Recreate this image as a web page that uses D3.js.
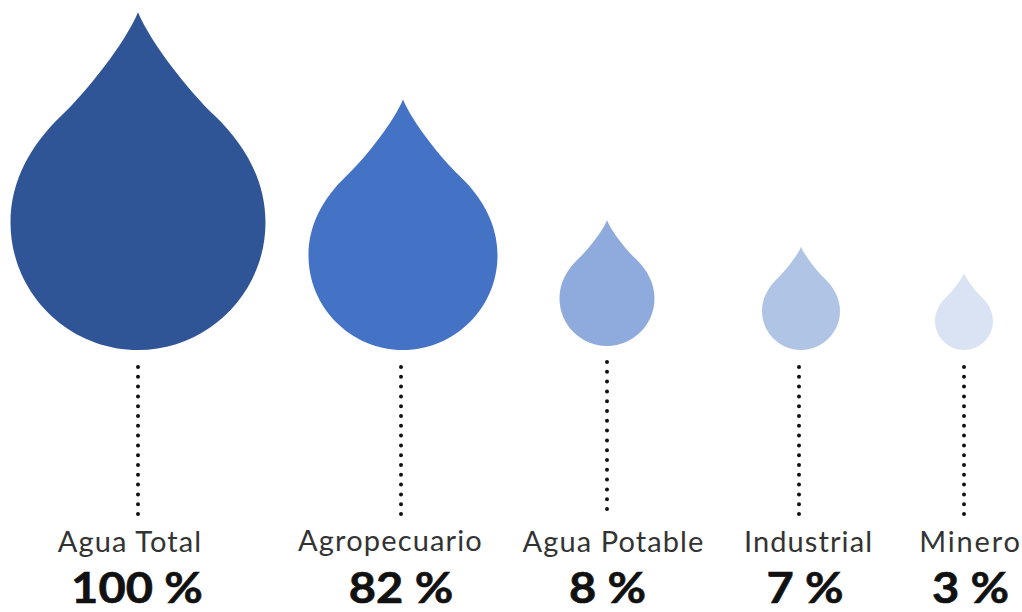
<!DOCTYPE html>
<html><head><meta charset="utf-8">
<script src="https://cdn.jsdelivr.net/npm/d3@7"></script>
<style>html,body{margin:0;padding:0;background:#fff}svg{display:block}</style>
</head><body><svg id="c" width="1022" height="612"></svg>
<script>
const categories = ["Agua Total","Agropecuario","Agua Potable","Industrial","Minero"];
const shares = [100,82,8,7,3];
const valueLabels = ["100 %","82 %","8 %","7 %","3 %"];
const colors = ["#2F5597","#4472C4","#8FAADC","#B0C4E5","#DAE3F3"];
const dropCentres = [138,403,607,801,964];
const dropBottoms = [350,350,346,350,350];
const lineCentres = [138,401,607,799,964];
const lineTops = [367,367,362,367,367];
const lineBottoms = [514,514,516,514,514];
const labelCentres = [130,390.5,613.5,808.5,970.5];
const labelSpacing = [1.1,1.15,1.1,1.1,1.8];
const valueCentres = [137,401,607.5,805,970.5];

const svg = d3.select("#c");
const width = d3.scaleLinear().domain([3,7,8,82,100]).range([58,78,95,189,255]);
const idx = d3.range(categories.length);

function drop(s){
  const p = d3.path();
  p.moveTo(0,0);
  p.bezierCurveTo(.05*s,.12*s,.2*s,.31*s,.3*s,.405*s);
  p.bezierCurveTo(.42*s,.52*s,.5*s,.66*s,.5*s,.825*s);
  p.bezierCurveTo(.5*s,1.1*s,.275*s,1.325*s,0,1.325*s);
  p.bezierCurveTo(-.275*s,1.325*s,-.5*s,1.1*s,-.5*s,.825*s);
  p.bezierCurveTo(-.5*s,.66*s,-.42*s,.52*s,-.3*s,.405*s);
  p.bezierCurveTo(-.2*s,.31*s,-.05*s,.12*s,0,0);
  p.closePath();
  return p.toString();
}

svg.selectAll("path.drop").data(idx).join("path").attr("class","drop")
  .attr("d",i=>drop(width(shares[i])))
  .attr("transform",i=>`translate(${dropCentres[i]},${dropBottoms[i]-1.325*width(shares[i])})`)
  .attr("fill",i=>colors[i]);

svg.selectAll("line.lead").data(idx).join("line").attr("class","lead")
  .attr("x1",i=>lineCentres[i]).attr("x2",i=>lineCentres[i])
  .attr("y1",i=>lineTops[i]).attr("y2",i=>lineBottoms[i])
  .attr("stroke","#111").attr("stroke-width",4)
  .attr("stroke-linecap","round").attr("stroke-dasharray","0 9.8");

svg.selectAll("text.cat").data(idx).join("text").attr("class","cat")
  .attr("x",i=>labelCentres[i]).attr("y",i=>i===1?551:552)
  .attr("text-anchor","middle")
  .style("font-family","Lato").style("font-size","29px")
  .style("letter-spacing",i=>labelSpacing[i]+"px")
  .attr("fill","#333").text(i=>categories[i]);

svg.selectAll("text.val").data(idx).join("text").attr("class","val")
  .attr("transform",i=>`translate(${valueCentres[i]},603) scale(1.12,1)`)
  .attr("text-anchor","middle")
  .style("font-family","Lato").style("font-size","42px").style("font-weight",700)
  .attr("stroke","#111").attr("stroke-width",0.6)
  .attr("fill","#111").text(i=>valueLabels[i]);
</script></body></html>
